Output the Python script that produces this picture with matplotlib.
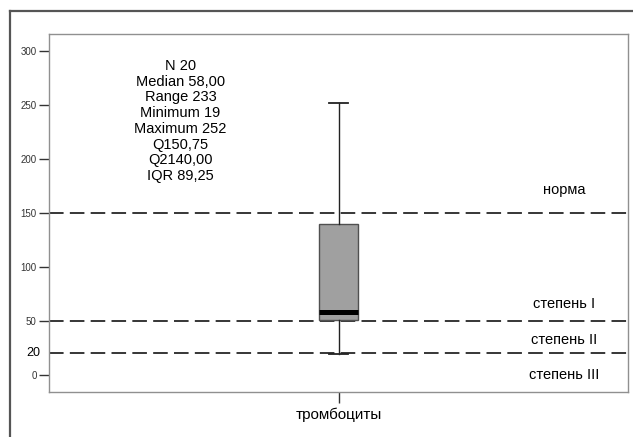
import matplotlib
matplotlib.use('Agg')
from matplotlib import pyplot as plt
from matplotlib.lines import Line2D

plt.rcParams['font.family'] = ['Liberation Sans', 'DejaVu Sans']
plt.rcParams['lines.scale_dashes'] = False

category = 'тромбоциты'
q1 = 50.75
median = 58.0
q3 = 140.0
minimum = 19
maximum = 252

stats_lines = ['N 20', 'Median 58,00', 'Range 233', 'Minimum 19',
               'Maximum 252', 'Q150,75', 'Q2140,00', 'IQR 89,25']

grade_limits = [150, 50, 20]
grade_labels = ['норма', 'степень I', 'степень II', 'степень III']
grade_label_y = [171, 66, 32, 0]
yticks = [0, 50, 100, 150, 200, 250, 300]

fig = plt.figure(figsize=(6.33, 4.37), dpi=100)
ax = fig.add_axes([49 / 633, 1 - 392 / 437, 579 / 633, 358 / 437])

# outer frame (only top and left are visible in the picture)
fig.add_artist(Line2D([10 / 633, 10 / 633], [0, 1 - 11 / 437],
                      transform=fig.transFigure, color='#555555', lw=1.6))
fig.add_artist(Line2D([10 / 633, 1], [1 - 11 / 437, 1 - 11 / 437],
                      transform=fig.transFigure, color='#555555', lw=1.6))

box = [{'med': median, 'q1': q1, 'q3': q3, 'whislo': minimum,
        'whishi': maximum, 'fliers': [], 'label': category}]
ax.bxp(box, positions=[1], widths=0.067, patch_artist=True,
       boxprops=dict(facecolor='#a0a0a0', edgecolor='#505050', lw=1.0),
       medianprops=dict(color='black', lw=3.6, solid_capstyle='butt'),
       whiskerprops=dict(color='#222222', lw=1.0),
       capprops=dict(color='#222222', lw=1.3))

for lim in grade_limits:
    ax.axhline(lim, color='black', lw=1.1, dashes=(10.5, 4.5), zorder=1)

for lab, yy in zip(grade_labels, grade_label_y):
    ax.text(1.39, yy, lab, ha='center', va='center', fontsize=10.5)

for i, line in enumerate(stats_lines):
    ax.text(0.227, 1 - (32 + i * 15.7) / 358, line, transform=ax.transAxes,
            ha='center', va='center', fontsize=10.5)

ax.text(-0.015, 20, '20', transform=ax.get_yaxis_transform(),
        ha='right', va='center', fontsize=9)

ax.set_xlim(0.5, 1.5)
ax.set_ylim(-16, 316)
ax.set_yticks(yticks)
ax.tick_params(axis='y', labelsize=7, length=7, width=1, color='#333333',
               labelcolor='#333333', pad=2)
ax.tick_params(axis='x', labelsize=11, length=8, width=1, color='#333333', pad=3)
for s in ax.spines.values():
    s.set_color('#909090')
    s.set_linewidth(1.0)

fig.savefig('out.png', dpi=100)
